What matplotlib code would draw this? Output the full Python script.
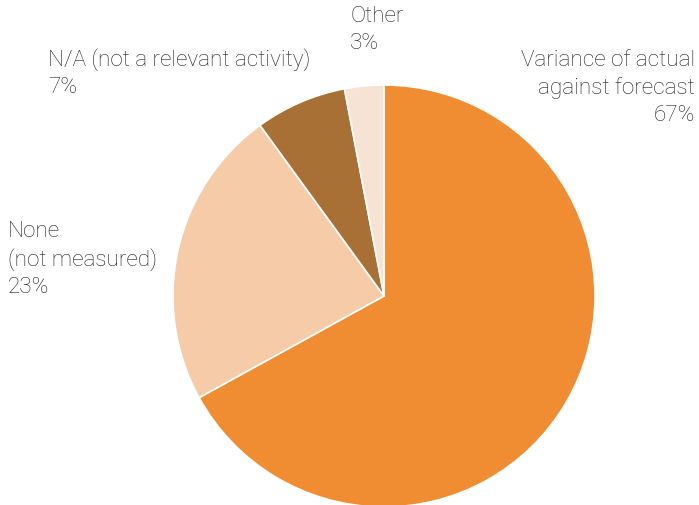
import matplotlib
matplotlib.use("Agg")
import matplotlib.pyplot as plt

labels = ["Variance of actual\nagainst forecast", "None\n(not measured)",
          "N/A (not a relevant activity)", "Other"]
values = [67, 23, 7, 3]
colors = ["#F08C31", "#F5CBA8", "#A87035", "#F6E3D4"]

W, H = 699, 506
fig = plt.figure(figsize=(W / 100, H / 100), dpi=100)

cx, cy, r = 384, 297, 211
ax = fig.add_axes([(cx - r) / W, (H - cy - r) / H, 2 * r / W, 2 * r / H])
ax.pie(values, colors=colors, startangle=90, counterclock=False,
       radius=1.0, wedgeprops=dict(edgecolor="white", linewidth=1.2))
ax.set_xlim(-1, 1)
ax.set_ylim(-1, 1)
ax.set_aspect("equal")
ax.axis("off")

font = dict(family=["Roboto", "DejaVu Sans"], weight="light", size=16.2,
            color="#231F20", linespacing=1.36, va="top")

def put(x, y, s, ha="left"):
    fig.text(x / W, 1 - y / H, s, ha=ha, multialignment=ha, **font)

put(695, 50, f"{labels[0]}\n{values[0]}%", ha="right")
put(8, 221, f"{labels[1]}\n{values[1]}%")
put(48, 48, f"{labels[2]}\n{values[2]}%")
put(350, 6, f"{labels[3]}\n{values[3]}%")

fig.savefig("out.png", dpi=100)
